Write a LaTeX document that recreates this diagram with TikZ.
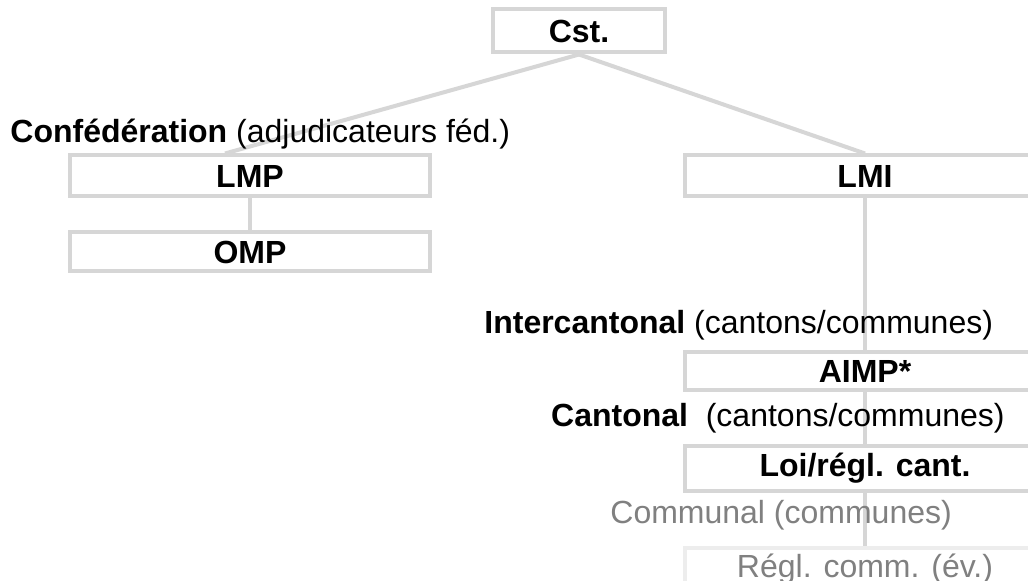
\documentclass[tikz,border=0pt]{standalone}
\usepackage{fontspec}
\setmainfont{Liberation Sans}
\usepackage{tikz}
\usetikzlibrary{positioning, backgrounds}

\begin{document}
\begin{tikzpicture}[
  x=0.5pt, y=-0.5pt,
  font=\fontsize{16pt}{19pt}\selectfont,
  box/.style={rectangle, draw=black!16, line width=2pt, fill=white,
              minimum width=180pt, minimum height=20.5pt, inner sep=0pt,
              font=\fontsize{16pt}{19pt}\selectfont\bfseries},
  faintbox/.style={box, draw=black!7, text=black!50,
                   font=\fontsize{16pt}{19pt}\selectfont},
  levelname/.style={inner sep=0pt},
  link/.style={draw=black!16, line width=2pt}
]
\useasboundingbox (0,0) rectangle (1028,581);
\node[box, minimum width=86pt, minimum height=21.5pt] (cst) at (579,31) {Cst.};
\node[box] (lmp) at (250,176) {LMP};
\node[box, minimum height=19.5pt, below=16pt of lmp] (omp) {OMP};
\node[box] (lmi) at (865,176) {LMI};
\node[box, minimum height=19pt] (aimp) at (865,371) {AIMP*};
\node[box, minimum height=22.5pt, below=26pt of aimp] (loi) {Loi/régl. cant.};
\node[faintbox, text height=15pt, text depth=15pt, below=26.5pt of loi] (regl) {Régl. comm. (év.)};

\node[levelname, anchor=base west] (confed) at (10,143) {\textbf{Confédération} (adjudicateurs féd.)};
\node[levelname, anchor=base west] (interc) at (484,334) {\textbf{Intercantonal} (cantons/communes)};
\node[levelname, anchor=base east] (canton) at (1005,427) {\textbf{Cantonal}~~(cantons/communes)};
\node[levelname, anchor=base west, text=black!50] (commun) at (610,524) {Communal (communes)};

\begin{scope}[on background layer]
\fill[white] (0,0) rectangle (1028,581);
\draw[link] (cst.south) -- ([xshift=-12.5pt]lmp.north);
\draw[link] (cst.south) -- (lmi.north);
\draw[link] (lmp) -- (omp);
\draw[link] (lmi) -- (regl);
\end{scope}
\end{tikzpicture}
\end{document}
